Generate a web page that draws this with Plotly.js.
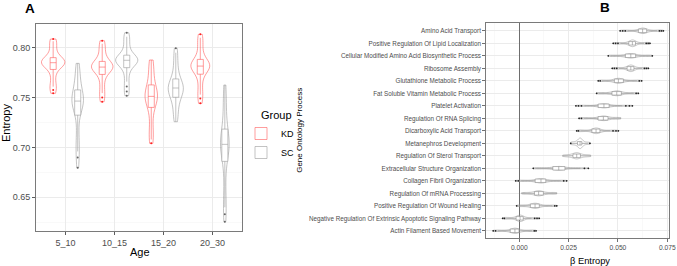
<!DOCTYPE html>
<html>
<head>
<meta charset="utf-8">
<script src="https://cdn.plot.ly/plotly-3.0.1.min.js"></script>
<style>
  html, body { margin: 0; padding: 0; background: #fff; }
  #chart { width: 677px; height: 266px; }
</style>
</head>
<body>
<div id="chart"></div>
<script>
// ---------------- Panel A data ----------------
const ageGroups = ['5_10', '10_15', '15_20', '20_30'];
const groupNames = ['KD', 'SC'];

// Entropy samples per age group
const kdEntropy = [
  [0.7543,0.7575,0.7610,0.7640,0.7700,0.7750,0.7793,0.7810,0.7825,0.7835,0.7842,0.7847,0.7850,0.7855,0.7862,0.7870,0.7878,0.7885,0.7894,0.7920,0.7960,0.8000,0.8040,0.8065,0.8087],
  [0.7458,0.7500,0.7545,0.7590,0.7650,0.7700,0.7743,0.7765,0.7780,0.7790,0.7797,0.7802,0.7806,0.7811,0.7817,0.7825,0.7835,0.7845,0.7857,0.7880,0.7920,0.7960,0.8000,0.8040,0.8070],
  [0.7041,0.7080,0.7120,0.7170,0.7250,0.7340,0.7422,0.7450,0.7470,0.7485,0.7495,0.7504,0.7512,0.7520,0.7530,0.7542,0.7560,0.7585,0.7616,0.7660,0.7710,0.7760,0.7810,0.7850,0.7877],
  [0.7442,0.7490,0.7530,0.7580,0.7640,0.7700,0.7746,0.7770,0.7788,0.7800,0.7807,0.7812,0.7816,0.7821,0.7827,0.7835,0.7845,0.7857,0.7874,0.7910,0.7960,0.8010,0.8060,0.8100,0.8134]
];
const scEntropy = [
  [0.6796,0.6900,0.6960,0.7020,0.7100,0.7200,0.7365,0.7400,0.7425,0.7440,0.7450,0.7458,0.7465,0.7472,0.7480,0.7490,0.7505,0.7530,0.7566,0.7610,0.7650,0.7700,0.7750,0.7800,0.7843],
  [0.7519,0.7560,0.7610,0.7660,0.7720,0.7770,0.7810,0.7830,0.7845,0.7855,0.7862,0.7868,0.7874,0.7879,0.7884,0.7890,0.7897,0.7905,0.7917,0.7950,0.7990,0.8030,0.8080,0.8110,0.8150],
  [0.7258,0.7300,0.7350,0.7400,0.7450,0.7485,0.7509,0.7530,0.7550,0.7565,0.7578,0.7588,0.7596,0.7604,0.7614,0.7625,0.7638,0.7655,0.7676,0.7720,0.7770,0.7820,0.7880,0.7950,0.7994],
  [0.6255,0.6330,0.6400,0.6470,0.6600,0.6750,0.6897,0.6935,0.6965,0.6990,0.7005,0.7020,0.7031,0.7042,0.7055,0.7070,0.7090,0.7120,0.7165,0.7240,0.7320,0.7400,0.7480,0.7560,0.7626]
];

// ---------------- Panel B data ----------------
const goTerms = [
  'Amino Acid Transport',
  'Positive Regulation Of Lipid Localization',
  'Cellular Modified Amino Acid Biosynthetic Process',
  'Ribosome Assembly',
  'Glutathione Metabolic Process',
  'Fat Soluble Vitamin Metabolic Process',
  'Platelet Activation',
  'Regulation Of RNA Splicing',
  'Dicarboxylic Acid Transport',
  'Metanephros Development',
  'Regulation Of Sterol Transport',
  'Extracellular Structure Organization',
  'Collagen Fibril Organization',
  'Regulation Of mRNA Processing',
  'Positive Regulation Of Wound Healing',
  'Negative Regulation Of Extrinsic Apoptotic Signaling Pathway',
  'Actin Filament Based Movement'
];
const betaEntropy = [
  [0.0511,0.0524,0.0537,0.0549,0.0568,0.0590,0.0608,0.0614,0.0618,0.0621,0.0623,0.0624,0.0625,0.0627,0.0629,0.0632,0.0635,0.0638,0.0642,0.0656,0.0676,0.0698,0.0710,0.0720,0.0730],
  [0.0476,0.0488,0.0500,0.0512,0.0530,0.0545,0.0558,0.0563,0.0566,0.0569,0.0571,0.0572,0.0573,0.0575,0.0577,0.0579,0.0581,0.0583,0.0586,0.0598,0.0615,0.0632,0.0643,0.0653,0.0662],
  [0.0451,0.0462,0.0473,0.0490,0.0510,0.0527,0.0541,0.0548,0.0553,0.0557,0.0560,0.0563,0.0565,0.0567,0.0570,0.0573,0.0577,0.0581,0.0586,0.0600,0.0620,0.0640,0.0656,0.0665,0.0674],
  [0.0471,0.0482,0.0494,0.0505,0.0522,0.0538,0.0549,0.0554,0.0557,0.0560,0.0562,0.0564,0.0565,0.0567,0.0569,0.0571,0.0573,0.0575,0.0578,0.0590,0.0605,0.0622,0.0634,0.0644,0.0654],
  [0.0400,0.0410,0.0420,0.0435,0.0455,0.0472,0.0485,0.0490,0.0494,0.0497,0.0499,0.0501,0.0502,0.0504,0.0507,0.0510,0.0514,0.0519,0.0524,0.0538,0.0558,0.0580,0.0596,0.0608,0.0620],
  [0.0392,0.0402,0.0412,0.0425,0.0443,0.0460,0.0473,0.0479,0.0484,0.0488,0.0490,0.0492,0.0494,0.0496,0.0499,0.0502,0.0505,0.0509,0.0514,0.0527,0.0545,0.0565,0.0580,0.0592,0.0603],
  [0.0287,0.0300,0.0315,0.0330,0.0355,0.0384,0.0405,0.0413,0.0418,0.0422,0.0425,0.0427,0.0429,0.0431,0.0434,0.0437,0.0441,0.0446,0.0451,0.0468,0.0494,0.0520,0.0540,0.0558,0.0573],
  [0.0303,0.0315,0.0327,0.0340,0.0360,0.0382,0.0405,0.0412,0.0417,0.0420,0.0422,0.0424,0.0426,0.0428,0.0431,0.0434,0.0437,0.0441,0.0446,0.0460,0.0478,0.0492,0.0502,0.0508,0.0514],
  [0.0291,0.0300,0.0310,0.0320,0.0338,0.0355,0.0372,0.0378,0.0382,0.0385,0.0387,0.0388,0.0389,0.0391,0.0393,0.0395,0.0398,0.0401,0.0405,0.0420,0.0440,0.0460,0.0475,0.0490,0.0502],
  [0.0261,0.0266,0.0272,0.0280,0.0286,0.0291,0.0296,0.0300,0.0303,0.0305,0.0306,0.0307,0.0308,0.0309,0.0310,0.0311,0.0312,0.0314,0.0316,0.0320,0.0326,0.0333,0.0342,0.0350,0.0358],
  [0.0220,0.0230,0.0240,0.0250,0.0258,0.0266,0.0274,0.0279,0.0283,0.0286,0.0288,0.0290,0.0291,0.0292,0.0294,0.0296,0.0299,0.0303,0.0308,0.0316,0.0325,0.0335,0.0345,0.0354,0.0362],
  [0.0071,0.0082,0.0093,0.0110,0.0130,0.0152,0.0176,0.0183,0.0189,0.0193,0.0196,0.0198,0.0200,0.0203,0.0206,0.0210,0.0215,0.0220,0.0227,0.0245,0.0268,0.0290,0.0310,0.0330,0.0350],
  [-0.0018,-0.0005,0.0008,0.0022,0.0045,0.0067,0.0085,0.0093,0.0099,0.0103,0.0106,0.0108,0.0110,0.0112,0.0114,0.0117,0.0120,0.0125,0.0130,0.0148,0.0170,0.0192,0.0210,0.0225,0.0240],
  [0.0012,0.0020,0.0030,0.0042,0.0056,0.0068,0.0080,0.0086,0.0090,0.0093,0.0095,0.0097,0.0098,0.0100,0.0103,0.0106,0.0110,0.0114,0.0119,0.0132,0.0148,0.0163,0.0175,0.0183,0.0190],
  [-0.0013,-0.0004,0.0006,0.0020,0.0035,0.0048,0.0059,0.0066,0.0071,0.0075,0.0077,0.0079,0.0080,0.0082,0.0084,0.0087,0.0090,0.0094,0.0098,0.0112,0.0130,0.0150,0.0167,0.0180,0.0190],
  [-0.0084,-0.0075,-0.0066,-0.0055,-0.0040,-0.0025,-0.0013,-0.0007,-0.0003,0.0000,0.0002,0.0003,0.0004,0.0005,0.0007,0.0009,0.0011,0.0014,0.0017,0.0030,0.0046,0.0062,0.0078,0.0090,0.0101],
  [-0.0132,-0.0120,-0.0108,-0.0095,-0.0075,-0.0057,-0.0042,-0.0035,-0.0030,-0.0027,-0.0025,-0.0023,-0.0022,-0.0020,-0.0018,-0.0015,-0.0012,-0.0009,-0.0005,0.0010,0.0030,0.0050,0.0065,0.0076,0.0085]
];

// ---------------- helpers ----------------
const W = 677, H = 266;
const px = v => v / W;
const py = v => 1 - v / H;
const FONT = 'Liberation Sans, Arial, Helvetica, sans-serif';

function flatCats(cats, samples) {
  const out = [];
  samples.forEach((arr, i) => arr.forEach(() => out.push(cats[i])));
  return out;
}
function flatVals(samples) {
  return samples.reduce((a, b) => a.concat(b), []);
}

function ageViolin(name, samples, lineColor, pointColor) {
  return {
    type: 'violin',
    name: name,
    x: flatCats(ageGroups, samples),
    y: flatVals(samples),
    xaxis: 'x', yaxis: 'y',
    offsetgroup: name, alignmentgroup: 'age', legendgroup: name,
    scalegroup: 'age', scalemode: 'width', spanmode: 'hard',
    line: { color: lineColor, width: 0.6 },
    fillcolor: 'rgba(255,255,255,0)',
    points: 'outliers', pointpos: 0, jitter: 0,
    marker: { color: pointColor, size: 2, line: { width: 0 } },
    box: { visible: true, width: 0.26, fillcolor: 'rgba(255,255,255,1)', line: { color: lineColor, width: 0.6 } },
    meanline: { visible: false },
    hoveron: 'violins'
  };
}

const traces = [
  ageViolin('KD', kdEntropy, '#ff5a5a', '#ff2020'),
  ageViolin('SC', scEntropy, '#9a9a9a', '#666666'),
  {
    type: 'violin',
    name: 'β Entropy',
    orientation: 'h',
    x: flatVals(betaEntropy),
    y: flatCats(goTerms, betaEntropy),
    xaxis: 'x2', yaxis: 'y2',
    showlegend: false,
    width: 0.85,
    scalemode: 'width', spanmode: 'hard',
    line: { color: '#a0a0a0', width: 0.6 },
    fillcolor: 'rgba(255,255,255,0)',
    points: 'outliers', pointpos: 0, jitter: 0,
    marker: { color: '#222222', size: 1.8, line: { width: 0 } },
    box: { visible: true, width: 0.33, fillcolor: 'rgba(255,255,255,1)', line: { color: '#8a8a8a', width: 0.6 } },
    meanline: { visible: false },
    hoveron: 'violins'
  }
];

const gridC = '#ebebeb';
const minorC = '#f5f5f5';
const borderC = '#7a7a7a';
const tickC = '#4d4d4d';

const layout = {
  width: W, height: H,
  margin: { l: 0, r: 0, t: 0, b: 0, pad: 0 },
  paper_bgcolor: '#ffffff',
  plot_bgcolor: '#ffffff',
  font: { family: FONT, color: '#000' },
  violinmode: 'group',
  violingap: 0,
  violingroupgap: 0.05,
  showlegend: true,
  legend: {
    x: px(241), y: py(119), xanchor: 'left', yanchor: 'top',
    font: { family: FONT, size: 9, color: '#000' },
    bgcolor: 'rgba(0,0,0,0)', borderwidth: 0,
    itemwidth: 30, tracegroupgap: 0, traceorder: 'normal'
  },
  xaxis: {
    domain: [px(36), px(242)], anchor: 'y',
    type: 'category', categoryorder: 'array', categoryarray: ageGroups,
    range: [-0.6, 3.6],
    showgrid: true, gridcolor: gridC, gridwidth: 1,
    showline: true, mirror: true, linecolor: borderC, linewidth: 1,
    ticks: 'outside', ticklen: 3, tickcolor: '#333', tickwidth: 0.8,
    tickfont: { family: FONT, size: 9, color: tickC },
    zeroline: false, fixedrange: true
  },
  yaxis: {
    domain: [35 / H, 242 / H], anchor: 'x',
    range: [0.6162, 0.8238],
    tick0: 0.65, dtick: 0.05, tickformat: '.2f',
    showgrid: true, gridcolor: gridC, gridwidth: 1,
    minor: { dtick: 0.025, showgrid: true, gridcolor: minorC, gridwidth: 0.6, ticks: '' },
    showline: true, mirror: true, linecolor: borderC, linewidth: 1,
    ticks: 'outside', ticklen: 3, tickcolor: '#333', tickwidth: 0.8,
    tickfont: { family: FONT, size: 9, color: tickC },
    zeroline: false, fixedrange: true
  },
  xaxis2: {
    domain: [px(485.7), px(668.7)], anchor: 'y2',
    range: [-0.0170, 0.0757],
    tick0: 0, dtick: 0.025, tickformat: '.3f',
    showgrid: true, gridcolor: gridC, gridwidth: 1,
    minor: { dtick: 0.0125, showgrid: true, gridcolor: minorC, gridwidth: 0.6, ticks: '' },
    showline: true, mirror: true, linecolor: borderC, linewidth: 1,
    ticks: 'outside', ticklen: 2.5, tickcolor: '#333', tickwidth: 0.7,
    tickfont: { family: FONT, size: 6.7, color: tickC },
    zeroline: true, zerolinecolor: '#6e6e6e', zerolinewidth: 1,
    fixedrange: true
  },
  yaxis2: {
    domain: [27.7 / H, 242.7 / H], anchor: 'x2',
    type: 'category', categoryorder: 'array', categoryarray: goTerms,
    range: [16.6, -0.6],
    showgrid: true, gridcolor: gridC, gridwidth: 1,
    showline: true, mirror: true, linecolor: borderC, linewidth: 1,
    ticks: 'outside', ticklen: 2.5, tickcolor: '#333', tickwidth: 0.7,
    tickfont: { family: FONT, size: 6.3, color: tickC },
    zeroline: false, fixedrange: true
  },
  annotations: [
    { text: '<b>A</b>', xref: 'paper', yref: 'paper', x: px(30), y: py(8), xanchor: 'center', yanchor: 'middle',
      showarrow: false, font: { family: FONT, size: 13.5, color: '#000' } },
    { text: '<b>B</b>', xref: 'paper', yref: 'paper', x: px(604.7), y: py(7.5), xanchor: 'center', yanchor: 'middle',
      showarrow: false, font: { family: FONT, size: 13.5, color: '#000' } },
    { text: 'Entropy', xref: 'paper', yref: 'paper', x: px(6), y: py(123), xanchor: 'center', yanchor: 'middle',
      textangle: -90, showarrow: false, font: { family: FONT, size: 11, color: '#000' } },
    { text: 'Age', xref: 'paper', yref: 'paper', x: px(139.5), y: py(251.7), xanchor: 'center', yanchor: 'middle',
      showarrow: false, font: { family: FONT, size: 11, color: '#000' } },
    { text: 'Group', xref: 'paper', yref: 'paper', x: px(258.5), y: py(115), xanchor: 'left', yanchor: 'middle',
      showarrow: false, font: { family: FONT, size: 11, color: '#000' } },
    { text: 'Gene Ontology Process', xref: 'paper', yref: 'paper', x: px(299.3), y: py(130.5), xanchor: 'center', yanchor: 'middle',
      textangle: -90, showarrow: false, font: { family: FONT, size: 8, color: '#000' } },
    { text: 'β Entropy', xref: 'paper', yref: 'paper', x: px(590), y: py(260.7), xanchor: 'center', yanchor: 'middle',
      showarrow: false, font: { family: FONT, size: 9.3, color: '#000' } }
  ]
};

Plotly.newPlot('chart', traces, layout, { staticPlot: true, displayModeBar: false });
</script>
</body>
</html>
